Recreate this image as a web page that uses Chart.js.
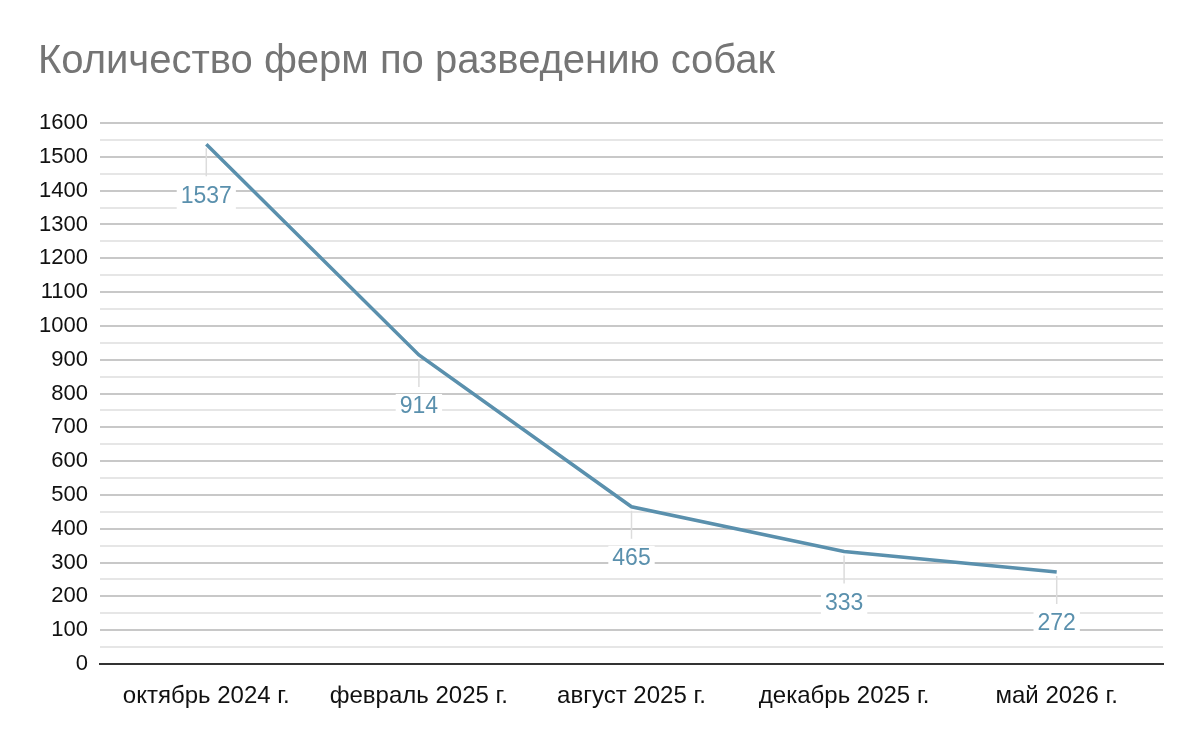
<!DOCTYPE html>
<html>
<head>
<meta charset="utf-8">
<script src="https://cdn.jsdelivr.net/npm/chart.js@4"></script>
<style>
  html, body { margin: 0; padding: 0; background: #fff; }
  #wrap { width: 1200px; height: 742px; }
</style>
</head>
<body>
<div id="wrap"><canvas id="chart"></canvas></div>
<script>
// data
var periods = ["октябрь 2024 г.", "февраль 2025 г.", "август 2025 г.", "декабрь 2025 г.", "май 2026 г."];
var farms = [1537, 914, 465, 333, 272];
var yMin = 0, yMax = 1600, yStep = 100;

var lineColor = "#5a90ad";
var font = "'Liberation Sans', Arial, sans-serif";

// value labels under each point, with a short leader line
var pointLabels = {
  id: "pointLabels",
  afterDatasetsDraw: function(chart) {
    var ctx = chart.ctx;
    var meta = chart.getDatasetMeta(0);
    ctx.save();
    ctx.font = "23px " + font;
    ctx.textAlign = "center";
    ctx.textBaseline = "middle";
    meta.data.forEach(function(pt, i) {
      var txt = String(farms[i]);
      ctx.strokeStyle = "#dcdcdc";
      ctx.lineWidth = 1.5;
      ctx.beginPath();
      ctx.moveTo(pt.x, pt.y + 4);
      ctx.lineTo(pt.x, pt.y + 32);
      ctx.stroke();
      var w = ctx.measureText(txt).width;
      ctx.fillStyle = "#fff";
      ctx.fillRect(pt.x - w / 2 - 4, pt.y + 39, w + 8, 26);
      ctx.fillStyle = lineColor;
      ctx.fillText(txt, pt.x, pt.y + 52);
    });
    ctx.restore();
  }
};

new Chart(document.getElementById("chart"), {
  type: "line",
  data: {
    labels: periods,
    datasets: [{
      data: farms,
      borderColor: lineColor,
      borderWidth: 3.5,
      pointRadius: 0,
      tension: 0,
      fill: false
    }]
  },
  options: {
    responsive: true,
    maintainAspectRatio: false,
    animation: false,
    layout: { padding: { left: 38, right: 37, top: 0, bottom: 0 } },
    plugins: {
      legend: { display: false },
      tooltip: { enabled: false },
      title: {
        display: true,
        text: "Количество ферм по разведению собак",
        align: "start",
        color: "#757575",
        font: { family: font, size: 40, weight: "normal" },
        padding: { top: 38, bottom: 37 }
      }
    },
    scales: {
      x: {
        offset: true,
        grid: { display: false },
        border: { color: "#333", width: 2 },
        ticks: { color: "#111", font: { family: font, size: 24 }, padding: 10, maxRotation: 0 },
        afterFit: function(s) { s.height = 78; }
      },
      y: {
        min: yMin,
        max: yMax,
        border: { display: false },
        grid: {
          drawTicks: false,
          lineWidth: 2,
          color: function(c) {
            return c.tick && c.tick.value % yStep === 0 ? "#c8c8c8" : "#e6e6e6";
          }
        },
        ticks: {
          stepSize: yStep / 2,
          autoSkip: false,
          color: "#111",
          font: { family: font, size: 22 },
          padding: 12,
          callback: function(v) { return v % yStep === 0 ? v : ""; }
        },
        afterFit: function(s) { s.width = 62; }
      }
    }
  },
  plugins: [pointLabels]
});
</script>
</body>
</html>
